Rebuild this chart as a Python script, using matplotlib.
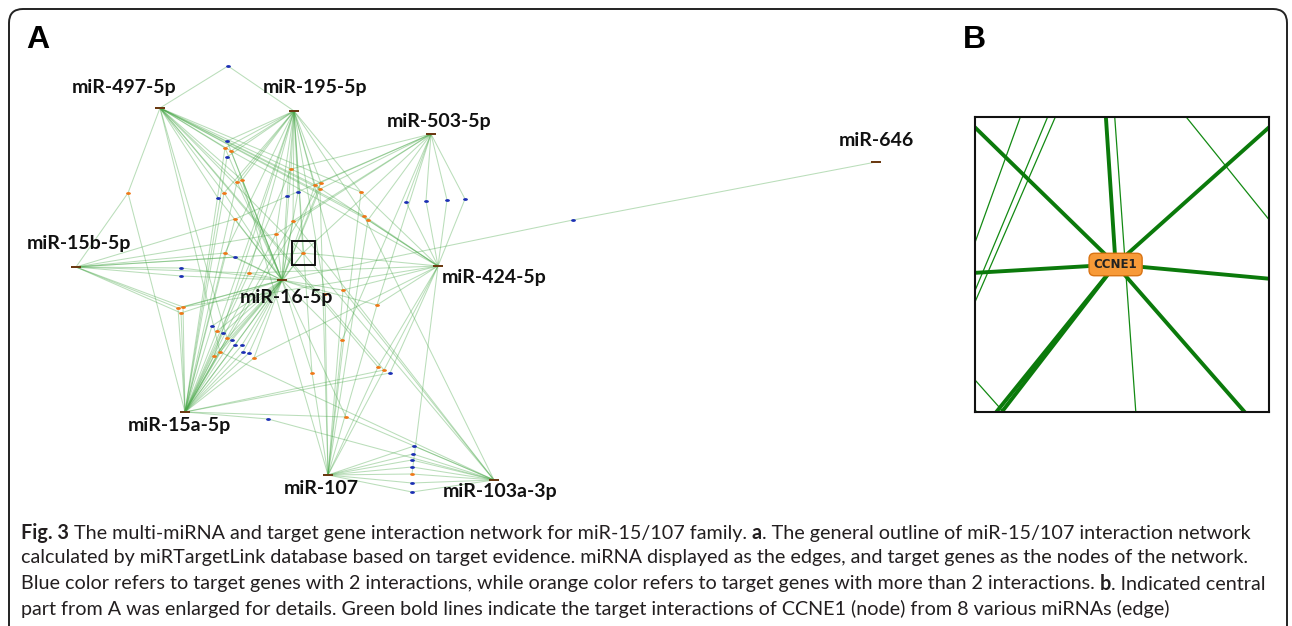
import numpy as np
import matplotlib
matplotlib.use("Agg")
import matplotlib.pyplot as plt
from matplotlib.collections import LineCollection
from matplotlib.patches import FancyBboxPatch, Rectangle

# miRNA hubs (layout position in panel A, label position)
mir_names = ["miR-497-5p", "miR-195-5p", "miR-503-5p", "miR-646", "miR-15b-5p",
             "miR-424-5p", "miR-16-5p", "miR-15a-5p", "miR-107", "miR-103a-3p"]
mir_x = [160, 294, 431, 876, 76, 438, 282, 185, 328, 494]
mir_y = [108, 111, 134, 162, 267, 266, 280, 412, 475, 480]
lab_x = [124, 315, 439, 876, 79, 494, 286, 179, 321, 500]
lab_y = [88, 88, 121, 141, 243, 277, 298, 426, 489, 492]

# target genes with 2 interactions (blue)
blue_x = [228, 227, 227, 218, 287, 298, 406, 426, 447, 465, 573, 235, 181, 181,
          212, 223, 232, 235, 242, 243, 249, 390, 268, 414, 413, 412, 412, 412, 412]
blue_y = [66, 141, 157, 198, 196, 192, 202, 201, 200, 199, 220, 257, 268, 276,
          326, 333, 340, 345, 345, 352, 353, 373, 419, 446, 454, 460, 467, 483, 492]
blue_links = [[0, 1], [1, 6], [1, 7], [0, 6], [1, 6], [1, 6], [2, 5], [2, 5], [2, 5], [2, 5],
              [3, 6], [4, 6], [4, 6], [4, 6],
              [6, 7], [6, 7], [6, 7], [6, 7], [6, 7], [6, 7], [6, 7], [5, 7], [7, 9],
              [8, 9], [8, 9], [8, 9], [8, 9], [8, 9], [8, 9]]

# target genes with more than 2 interactions (orange)
orange_x = [128, 225, 231, 237, 242, 224, 291, 315, 321, 320, 361, 235, 293, 364, 368,
            276, 225, 249, 343, 325, 377, 178, 183, 181, 217, 227, 220, 214, 254, 342,
            312, 378, 384, 346, 412]
orange_y = [193, 148, 151, 182, 180, 193, 169, 185, 183, 189, 192, 219, 221, 216, 220,
            234, 253, 273, 290, 294, 305, 308, 307, 313, 331, 338, 352, 356, 358, 340,
            373, 367, 370, 417, 474]
orange_links = [[0, 4, 7], [0, 1, 6, 7], [0, 1, 6, 5], [0, 1, 6, 7], [0, 1, 6, 8], [0, 1, 6, 7],
                [1, 2, 6, 7], [0, 1, 2, 5, 6], [0, 1, 6, 7], [0, 2, 6, 8], [0, 1, 5, 8],
                [2, 4, 6, 7], [1, 2, 6, 7, 9], [0, 1, 5, 9], [0, 2, 5, 8], [1, 2, 4, 6, 7],
                [1, 4, 6, 7], [1, 4, 5, 6, 7], [1, 5, 6, 8, 9], [1, 6, 8], [2, 5, 6, 8],
                [4, 6, 7], [4, 5, 6, 7], [4, 6, 7], [1, 6, 7], [0, 6, 7], [0, 6, 7, 9],
                [1, 6, 7], [5, 6, 7], [2, 6, 8], [1, 6, 8], [0, 5, 8], [0, 5, 7, 8],
                [6, 7, 9], [5, 8, 9]]

# CCNE1, the node enlarged in panel B
ccne1_x, ccne1_y = 303, 253
ccne1_links = [0, 1, 2, 4, 5, 6, 7, 9]
zoom_box = [292, 241, 315, 265]  # x0, y0, x1, y1 in panel A

caption = [
    [("Fig. 3", True), (" The multi-miRNA and target gene interaction network for miR-15/107 family. ", False),
     ("a", True), (". The general outline of miR-15/107 interaction network", False)],
    [("calculated by miRTargetLink database based on target evidence. miRNA displayed as the edges, "
      "and target genes as the nodes of the network.", False)],
    [("Blue color refers to target genes with 2 interactions, while orange color refers to target genes "
      "with more than 2 interactions. ", False), ("b", True), (". Indicated central", False)],
    [("part from A was enlarged for details. Green bold lines indicate the target interactions of "
      "CCNE1 (node) from 8 various miRNAs (edge)", False)],
]
caption_y = [533, 558, 584, 609]


def edges(xs, ys, links):
    segs = []
    for x, y, lk in zip(xs, ys, links):
        for m in lk:
            segs.append([(mir_x[m], mir_y[m]), (x, y)])
    return segs


other_segs = edges(blue_x, blue_y, blue_links) + edges(orange_x, orange_y, orange_links)
ccne1_segs = edges([ccne1_x], [ccne1_y], [ccne1_links])

t = np.linspace(0, 2 * np.pi, 30)
dot = np.column_stack([1.7 * np.cos(t), np.sin(t)])
bar = [(-3.5, -1), (3.5, -1), (3.5, 1), (-3.5, 1), (-3.5, -1)]

W, H = 1292, 626
fig = plt.figure(figsize=(W / 100, H / 100), dpi=100)
ax = fig.add_axes([0, 0, 1, 1])
ax.set_xlim(0, W)
ax.set_ylim(H, 0)
ax.axis("off")

ax.add_patch(FancyBboxPatch((9, 9), 1278, 660, boxstyle="round,pad=0,rounding_size=14",
                            fc="white", ec="#222222", lw=1.4, clip_on=False))

ax.add_collection(LineCollection(other_segs + ccne1_segs, colors="#4aa84a", linewidths=0.75, alpha=0.38))
ax.scatter(blue_x, blue_y, marker=dot, s=12, c="#1c2fb4", lw=0, zorder=3)
ax.scatter(orange_x + [ccne1_x], orange_y + [ccne1_y], marker=dot, s=12, c="#f07818", lw=0, zorder=3)
ax.scatter(mir_x, mir_y, marker=bar, s=45, c="#6b3a12", lw=0, zorder=3)

for name, x, y in zip(mir_names, lab_x, lab_y):
    ax.text(x, y, name, ha="center", va="center", fontsize=14, fontweight="bold",
            family="Lato", color="#111111")

x0, y0, x1, y1 = zoom_box
ax.add_patch(Rectangle((x0, y0), x1 - x0, y1 - y0, fill=False, ec="#111111", lw=1.4, zorder=4))

ax.text(26, 40, "A", fontsize=23, fontweight="bold", family="Liberation Sans", va="center")
ax.text(963, 40, "B", fontsize=23, fontweight="bold", family="Liberation Sans", va="center")

# panel B: enlarged region around CCNE1
axb = fig.add_axes([975 / W, 1 - 412 / H, 294 / W, 295 / H])
axb.set_xlim(x0, x1)
axb.set_ylim(y1, y0)
axb.set_xticks([])
axb.set_yticks([])
for s in axb.spines.values():
    s.set_linewidth(1.5)
    s.set_color("#111111")
axb.add_collection(LineCollection(other_segs, colors="#138a13", linewidths=0.9))
axb.add_collection(LineCollection(ccne1_segs, colors="#0b7a0b", linewidths=2.8))
axb.text(ccne1_x, ccne1_y, "CCNE1", ha="center", va="center", fontsize=8.5, fontweight="bold",
         color="#222222", zorder=5,
         bbox=dict(boxstyle="round,pad=0.4,rounding_size=0.45", fc="#f79a38", ec="#d97414", lw=1))

# caption, bold parts placed piece by piece
renderer = fig.canvas.get_renderer()
probe = ax.text(0, 0, "".join(p for p, _ in caption[1]), fontsize=10, family="Lato")
size = 10 * 1229 / probe.get_window_extent(renderer).width
probe.remove()
for parts, y in zip(caption, caption_y):
    x = 21
    for txt, bold in parts:
        tx = ax.text(x, y, txt, fontsize=size, family="Lato", va="center", color="#231f20",
                     fontweight="bold" if bold else "normal")
        x += tx.get_window_extent(renderer).width

fig.savefig("out.png", dpi=100)
